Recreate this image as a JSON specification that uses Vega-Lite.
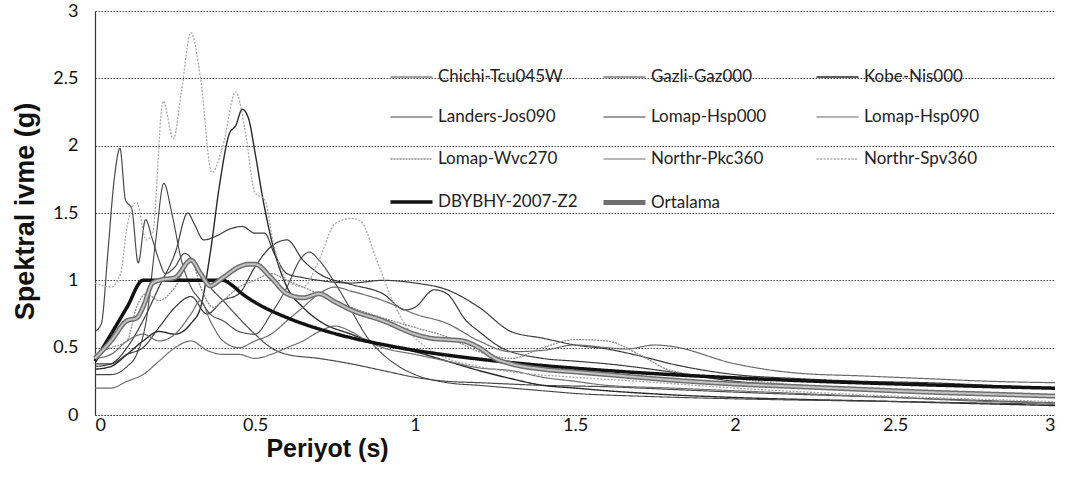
{
  "$schema": "https://vega.github.io/schema/vega-lite/v6.json",
  "autosize": {"type": "none"},
  "padding": {"left": 95, "top": 11, "right": 13, "bottom": 69},
  "width": 960,
  "height": 404,
  "background": "white",
  "config": {"view": {"stroke": null}},
  "datasets": {
    "spectra": [
      {"series":"Chichi-Tcu045W","T":0,"Sa":0.62},{"series":"Chichi-Tcu045W","T":0.02,"Sa":0.68},{"series":"Chichi-Tcu045W","T":0.04,"Sa":1.2},{"series":"Chichi-Tcu045W","T":0.06,"Sa":1.75},{"series":"Chichi-Tcu045W","T":0.078,"Sa":1.98},{"series":"Chichi-Tcu045W","T":0.095,"Sa":1.6},{"series":"Chichi-Tcu045W","T":0.115,"Sa":1.53},{"series":"Chichi-Tcu045W","T":0.135,"Sa":1.13},{"series":"Chichi-Tcu045W","T":0.158,"Sa":1.45},{"series":"Chichi-Tcu045W","T":0.18,"Sa":1.3},{"series":"Chichi-Tcu045W","T":0.2,"Sa":1.15},{"series":"Chichi-Tcu045W","T":0.22,"Sa":1.05},{"series":"Chichi-Tcu045W","T":0.25,"Sa":1.1},{"series":"Chichi-Tcu045W","T":0.28,"Sa":1.2},{"series":"Chichi-Tcu045W","T":0.32,"Sa":1.1},{"series":"Chichi-Tcu045W","T":0.36,"Sa":0.95},{"series":"Chichi-Tcu045W","T":0.4,"Sa":0.85},{"series":"Chichi-Tcu045W","T":0.45,"Sa":0.72},{"series":"Chichi-Tcu045W","T":0.5,"Sa":0.6},{"series":"Chichi-Tcu045W","T":0.55,"Sa":0.5},{"series":"Chichi-Tcu045W","T":0.6,"Sa":0.45},{"series":"Chichi-Tcu045W","T":0.7,"Sa":0.42},{"series":"Chichi-Tcu045W","T":0.8,"Sa":0.38},{"series":"Chichi-Tcu045W","T":0.9,"Sa":0.33},{"series":"Chichi-Tcu045W","T":1.0,"Sa":0.28},{"series":"Chichi-Tcu045W","T":1.1,"Sa":0.25},{"series":"Chichi-Tcu045W","T":1.2,"Sa":0.24},{"series":"Chichi-Tcu045W","T":1.4,"Sa":0.22},{"series":"Chichi-Tcu045W","T":1.6,"Sa":0.21},{"series":"Chichi-Tcu045W","T":1.8,"Sa":0.19},{"series":"Chichi-Tcu045W","T":2.0,"Sa":0.17},{"series":"Chichi-Tcu045W","T":2.5,"Sa":0.13},{"series":"Chichi-Tcu045W","T":3.0,"Sa":0.09},

      {"series":"Gazli-Gaz000","T":0,"Sa":0.36},{"series":"Gazli-Gaz000","T":0.05,"Sa":0.38},{"series":"Gazli-Gaz000","T":0.1,"Sa":0.5},{"series":"Gazli-Gaz000","T":0.15,"Sa":0.7},{"series":"Gazli-Gaz000","T":0.2,"Sa":0.95},{"series":"Gazli-Gaz000","T":0.25,"Sa":1.2},{"series":"Gazli-Gaz000","T":0.29,"Sa":1.5},{"series":"Gazli-Gaz000","T":0.31,"Sa":1.42},{"series":"Gazli-Gaz000","T":0.34,"Sa":1.3},{"series":"Gazli-Gaz000","T":0.38,"Sa":1.33},{"series":"Gazli-Gaz000","T":0.42,"Sa":1.38},{"series":"Gazli-Gaz000","T":0.46,"Sa":1.4},{"series":"Gazli-Gaz000","T":0.5,"Sa":1.35},{"series":"Gazli-Gaz000","T":0.53,"Sa":1.35},{"series":"Gazli-Gaz000","T":0.56,"Sa":1.2},{"series":"Gazli-Gaz000","T":0.6,"Sa":1.05},{"series":"Gazli-Gaz000","T":0.65,"Sa":1.02},{"series":"Gazli-Gaz000","T":0.7,"Sa":1.0},{"series":"Gazli-Gaz000","T":0.8,"Sa":0.98},{"series":"Gazli-Gaz000","T":0.9,"Sa":1.0},{"series":"Gazli-Gaz000","T":1.0,"Sa":0.98},{"series":"Gazli-Gaz000","T":1.1,"Sa":0.93},{"series":"Gazli-Gaz000","T":1.2,"Sa":0.8},{"series":"Gazli-Gaz000","T":1.3,"Sa":0.62},{"series":"Gazli-Gaz000","T":1.4,"Sa":0.57},{"series":"Gazli-Gaz000","T":1.5,"Sa":0.52},{"series":"Gazli-Gaz000","T":1.6,"Sa":0.49},{"series":"Gazli-Gaz000","T":1.7,"Sa":0.44},{"series":"Gazli-Gaz000","T":1.8,"Sa":0.38},{"series":"Gazli-Gaz000","T":2.0,"Sa":0.3},{"series":"Gazli-Gaz000","T":2.2,"Sa":0.27},{"series":"Gazli-Gaz000","T":2.4,"Sa":0.25},{"series":"Gazli-Gaz000","T":2.6,"Sa":0.24},{"series":"Gazli-Gaz000","T":2.8,"Sa":0.22},{"series":"Gazli-Gaz000","T":3.0,"Sa":0.2},

      {"series":"Kobe-Nis000","T":0,"Sa":0.34},{"series":"Kobe-Nis000","T":0.05,"Sa":0.36},{"series":"Kobe-Nis000","T":0.1,"Sa":0.45},{"series":"Kobe-Nis000","T":0.15,"Sa":0.55},{"series":"Kobe-Nis000","T":0.2,"Sa":0.62},{"series":"Kobe-Nis000","T":0.25,"Sa":0.6},{"series":"Kobe-Nis000","T":0.3,"Sa":0.68},{"series":"Kobe-Nis000","T":0.33,"Sa":0.8},{"series":"Kobe-Nis000","T":0.36,"Sa":1.2},{"series":"Kobe-Nis000","T":0.39,"Sa":1.72},{"series":"Kobe-Nis000","T":0.42,"Sa":2.09},{"series":"Kobe-Nis000","T":0.44,"Sa":2.15},{"series":"Kobe-Nis000","T":0.46,"Sa":2.27},{"series":"Kobe-Nis000","T":0.48,"Sa":2.2},{"series":"Kobe-Nis000","T":0.5,"Sa":1.95},{"series":"Kobe-Nis000","T":0.525,"Sa":1.6},{"series":"Kobe-Nis000","T":0.56,"Sa":1.22},{"series":"Kobe-Nis000","T":0.6,"Sa":0.95},{"series":"Kobe-Nis000","T":0.65,"Sa":0.8},{"series":"Kobe-Nis000","T":0.7,"Sa":0.7},{"series":"Kobe-Nis000","T":0.8,"Sa":0.6},{"series":"Kobe-Nis000","T":0.9,"Sa":0.52},{"series":"Kobe-Nis000","T":1.0,"Sa":0.47},{"series":"Kobe-Nis000","T":1.1,"Sa":0.4},{"series":"Kobe-Nis000","T":1.2,"Sa":0.33},{"series":"Kobe-Nis000","T":1.3,"Sa":0.27},{"series":"Kobe-Nis000","T":1.4,"Sa":0.22},{"series":"Kobe-Nis000","T":1.5,"Sa":0.2},{"series":"Kobe-Nis000","T":1.6,"Sa":0.18},{"series":"Kobe-Nis000","T":1.8,"Sa":0.15},{"series":"Kobe-Nis000","T":2.0,"Sa":0.13},{"series":"Kobe-Nis000","T":2.5,"Sa":0.1},{"series":"Kobe-Nis000","T":3.0,"Sa":0.07},

      {"series":"Landers-Jos090","T":0,"Sa":0.3},{"series":"Landers-Jos090","T":0.05,"Sa":0.3},{"series":"Landers-Jos090","T":0.1,"Sa":0.36},{"series":"Landers-Jos090","T":0.13,"Sa":0.45},{"series":"Landers-Jos090","T":0.16,"Sa":0.7},{"series":"Landers-Jos090","T":0.19,"Sa":1.3},{"series":"Landers-Jos090","T":0.215,"Sa":1.72},{"series":"Landers-Jos090","T":0.24,"Sa":1.5},{"series":"Landers-Jos090","T":0.27,"Sa":1.15},{"series":"Landers-Jos090","T":0.3,"Sa":0.95},{"series":"Landers-Jos090","T":0.33,"Sa":0.85},{"series":"Landers-Jos090","T":0.36,"Sa":0.75},{"series":"Landers-Jos090","T":0.4,"Sa":0.7},{"series":"Landers-Jos090","T":0.45,"Sa":0.62},{"series":"Landers-Jos090","T":0.5,"Sa":0.6},{"series":"Landers-Jos090","T":0.55,"Sa":0.75},{"series":"Landers-Jos090","T":0.6,"Sa":0.95},{"series":"Landers-Jos090","T":0.64,"Sa":1.15},{"series":"Landers-Jos090","T":0.67,"Sa":1.21},{"series":"Landers-Jos090","T":0.7,"Sa":1.15},{"series":"Landers-Jos090","T":0.75,"Sa":0.98},{"series":"Landers-Jos090","T":0.8,"Sa":0.78},{"series":"Landers-Jos090","T":0.85,"Sa":0.58},{"series":"Landers-Jos090","T":0.9,"Sa":0.45},{"series":"Landers-Jos090","T":0.95,"Sa":0.36},{"series":"Landers-Jos090","T":1.0,"Sa":0.3},{"series":"Landers-Jos090","T":1.1,"Sa":0.24},{"series":"Landers-Jos090","T":1.2,"Sa":0.22},{"series":"Landers-Jos090","T":1.3,"Sa":0.2},{"series":"Landers-Jos090","T":1.4,"Sa":0.18},{"series":"Landers-Jos090","T":1.5,"Sa":0.16},{"series":"Landers-Jos090","T":1.7,"Sa":0.14},{"series":"Landers-Jos090","T":2.0,"Sa":0.12},{"series":"Landers-Jos090","T":2.5,"Sa":0.1},{"series":"Landers-Jos090","T":3.0,"Sa":0.08},

      {"series":"Lomap-Hsp000","T":0,"Sa":0.38},{"series":"Lomap-Hsp000","T":0.05,"Sa":0.38},{"series":"Lomap-Hsp000","T":0.1,"Sa":0.45},{"series":"Lomap-Hsp000","T":0.15,"Sa":0.5},{"series":"Lomap-Hsp000","T":0.2,"Sa":0.65},{"series":"Lomap-Hsp000","T":0.25,"Sa":0.8},{"series":"Lomap-Hsp000","T":0.3,"Sa":0.88},{"series":"Lomap-Hsp000","T":0.35,"Sa":0.75},{"series":"Lomap-Hsp000","T":0.4,"Sa":0.85},{"series":"Lomap-Hsp000","T":0.45,"Sa":0.9},{"series":"Lomap-Hsp000","T":0.5,"Sa":1.1},{"series":"Lomap-Hsp000","T":0.55,"Sa":1.25},{"series":"Lomap-Hsp000","T":0.6,"Sa":1.3},{"series":"Lomap-Hsp000","T":0.65,"Sa":1.15},{"series":"Lomap-Hsp000","T":0.7,"Sa":1.05},{"series":"Lomap-Hsp000","T":0.8,"Sa":0.97},{"series":"Lomap-Hsp000","T":0.9,"Sa":0.9},{"series":"Lomap-Hsp000","T":0.97,"Sa":0.78},{"series":"Lomap-Hsp000","T":1.0,"Sa":0.8},{"series":"Lomap-Hsp000","T":1.06,"Sa":0.93},{"series":"Lomap-Hsp000","T":1.1,"Sa":0.9},{"series":"Lomap-Hsp000","T":1.16,"Sa":0.7},{"series":"Lomap-Hsp000","T":1.2,"Sa":0.62},{"series":"Lomap-Hsp000","T":1.27,"Sa":0.5},{"series":"Lomap-Hsp000","T":1.4,"Sa":0.42},{"series":"Lomap-Hsp000","T":1.5,"Sa":0.4},{"series":"Lomap-Hsp000","T":1.6,"Sa":0.38},{"series":"Lomap-Hsp000","T":1.8,"Sa":0.32},{"series":"Lomap-Hsp000","T":2.0,"Sa":0.25},{"series":"Lomap-Hsp000","T":2.2,"Sa":0.22},{"series":"Lomap-Hsp000","T":2.5,"Sa":0.18},{"series":"Lomap-Hsp000","T":2.8,"Sa":0.15},{"series":"Lomap-Hsp000","T":3.0,"Sa":0.13},

      {"series":"Lomap-Hsp090","T":0,"Sa":0.42},{"series":"Lomap-Hsp090","T":0.05,"Sa":0.45},{"series":"Lomap-Hsp090","T":0.1,"Sa":0.55},{"series":"Lomap-Hsp090","T":0.15,"Sa":0.6},{"series":"Lomap-Hsp090","T":0.2,"Sa":0.55},{"series":"Lomap-Hsp090","T":0.25,"Sa":0.6},{"series":"Lomap-Hsp090","T":0.3,"Sa":0.75},{"series":"Lomap-Hsp090","T":0.33,"Sa":0.85},{"series":"Lomap-Hsp090","T":0.36,"Sa":0.7},{"series":"Lomap-Hsp090","T":0.4,"Sa":0.55},{"series":"Lomap-Hsp090","T":0.45,"Sa":0.5},{"series":"Lomap-Hsp090","T":0.5,"Sa":0.55},{"series":"Lomap-Hsp090","T":0.55,"Sa":0.6},{"series":"Lomap-Hsp090","T":0.6,"Sa":0.7},{"series":"Lomap-Hsp090","T":0.65,"Sa":0.8},{"series":"Lomap-Hsp090","T":0.7,"Sa":0.9},{"series":"Lomap-Hsp090","T":0.75,"Sa":0.95},{"series":"Lomap-Hsp090","T":0.8,"Sa":0.92},{"series":"Lomap-Hsp090","T":0.9,"Sa":0.85},{"series":"Lomap-Hsp090","T":1.0,"Sa":0.75},{"series":"Lomap-Hsp090","T":1.1,"Sa":0.68},{"series":"Lomap-Hsp090","T":1.2,"Sa":0.55},{"series":"Lomap-Hsp090","T":1.3,"Sa":0.47},{"series":"Lomap-Hsp090","T":1.4,"Sa":0.48},{"series":"Lomap-Hsp090","T":1.5,"Sa":0.52},{"series":"Lomap-Hsp090","T":1.6,"Sa":0.5},{"series":"Lomap-Hsp090","T":1.66,"Sa":0.49},{"series":"Lomap-Hsp090","T":1.75,"Sa":0.52},{"series":"Lomap-Hsp090","T":1.8,"Sa":0.51},{"series":"Lomap-Hsp090","T":2.0,"Sa":0.38},{"series":"Lomap-Hsp090","T":2.2,"Sa":0.31},{"series":"Lomap-Hsp090","T":2.4,"Sa":0.29},{"series":"Lomap-Hsp090","T":2.6,"Sa":0.27},{"series":"Lomap-Hsp090","T":2.8,"Sa":0.25},{"series":"Lomap-Hsp090","T":3.0,"Sa":0.24},

      {"series":"Lomap-Wvc270","T":0,"Sa":0.45},{"series":"Lomap-Wvc270","T":0.05,"Sa":0.5},{"series":"Lomap-Wvc270","T":0.1,"Sa":0.55},{"series":"Lomap-Wvc270","T":0.13,"Sa":0.8},{"series":"Lomap-Wvc270","T":0.16,"Sa":0.9},{"series":"Lomap-Wvc270","T":0.2,"Sa":0.85},{"series":"Lomap-Wvc270","T":0.25,"Sa":0.95},{"series":"Lomap-Wvc270","T":0.3,"Sa":1.15},{"series":"Lomap-Wvc270","T":0.33,"Sa":0.95},{"series":"Lomap-Wvc270","T":0.37,"Sa":0.8},{"series":"Lomap-Wvc270","T":0.4,"Sa":0.85},{"series":"Lomap-Wvc270","T":0.45,"Sa":0.95},{"series":"Lomap-Wvc270","T":0.5,"Sa":1.0},{"series":"Lomap-Wvc270","T":0.55,"Sa":1.05},{"series":"Lomap-Wvc270","T":0.6,"Sa":1.0},{"series":"Lomap-Wvc270","T":0.7,"Sa":0.9},{"series":"Lomap-Wvc270","T":0.8,"Sa":0.8},{"series":"Lomap-Wvc270","T":0.9,"Sa":0.72},{"series":"Lomap-Wvc270","T":1.0,"Sa":0.65},{"series":"Lomap-Wvc270","T":1.1,"Sa":0.58},{"series":"Lomap-Wvc270","T":1.2,"Sa":0.47},{"series":"Lomap-Wvc270","T":1.3,"Sa":0.42},{"series":"Lomap-Wvc270","T":1.4,"Sa":0.5},{"series":"Lomap-Wvc270","T":1.5,"Sa":0.56},{"series":"Lomap-Wvc270","T":1.6,"Sa":0.55},{"series":"Lomap-Wvc270","T":1.7,"Sa":0.45},{"series":"Lomap-Wvc270","T":1.8,"Sa":0.33},{"series":"Lomap-Wvc270","T":2.0,"Sa":0.27},{"series":"Lomap-Wvc270","T":2.2,"Sa":0.22},{"series":"Lomap-Wvc270","T":2.5,"Sa":0.18},{"series":"Lomap-Wvc270","T":2.8,"Sa":0.16},{"series":"Lomap-Wvc270","T":3.0,"Sa":0.14},

      {"series":"Northr-Pkc360","T":0,"Sa":0.2},{"series":"Northr-Pkc360","T":0.05,"Sa":0.2},{"series":"Northr-Pkc360","T":0.1,"Sa":0.25},{"series":"Northr-Pkc360","T":0.15,"Sa":0.3},{"series":"Northr-Pkc360","T":0.2,"Sa":0.4},{"series":"Northr-Pkc360","T":0.25,"Sa":0.5},{"series":"Northr-Pkc360","T":0.3,"Sa":0.55},{"series":"Northr-Pkc360","T":0.35,"Sa":0.48},{"series":"Northr-Pkc360","T":0.4,"Sa":0.45},{"series":"Northr-Pkc360","T":0.45,"Sa":0.45},{"series":"Northr-Pkc360","T":0.5,"Sa":0.42},{"series":"Northr-Pkc360","T":0.55,"Sa":0.45},{"series":"Northr-Pkc360","T":0.6,"Sa":0.5},{"series":"Northr-Pkc360","T":0.65,"Sa":0.55},{"series":"Northr-Pkc360","T":0.7,"Sa":0.62},{"series":"Northr-Pkc360","T":0.75,"Sa":0.66},{"series":"Northr-Pkc360","T":0.8,"Sa":0.62},{"series":"Northr-Pkc360","T":0.85,"Sa":0.55},{"series":"Northr-Pkc360","T":0.9,"Sa":0.5},{"series":"Northr-Pkc360","T":1.0,"Sa":0.45},{"series":"Northr-Pkc360","T":1.1,"Sa":0.4},{"series":"Northr-Pkc360","T":1.2,"Sa":0.35},{"series":"Northr-Pkc360","T":1.3,"Sa":0.33},{"series":"Northr-Pkc360","T":1.4,"Sa":0.28},{"series":"Northr-Pkc360","T":1.5,"Sa":0.25},{"series":"Northr-Pkc360","T":1.6,"Sa":0.22},{"series":"Northr-Pkc360","T":1.8,"Sa":0.2},{"series":"Northr-Pkc360","T":2.0,"Sa":0.18},{"series":"Northr-Pkc360","T":2.2,"Sa":0.16},{"series":"Northr-Pkc360","T":2.5,"Sa":0.13},{"series":"Northr-Pkc360","T":2.8,"Sa":0.1},{"series":"Northr-Pkc360","T":3.0,"Sa":0.09},

      {"series":"Northr-Spv360","T":0,"Sa":0.98},{"series":"Northr-Spv360","T":0.05,"Sa":0.95},{"series":"Northr-Spv360","T":0.08,"Sa":1.05},{"series":"Northr-Spv360","T":0.1,"Sa":1.4},{"series":"Northr-Spv360","T":0.13,"Sa":1.58},{"series":"Northr-Spv360","T":0.16,"Sa":1.3},{"series":"Northr-Spv360","T":0.18,"Sa":1.35},{"series":"Northr-Spv360","T":0.213,"Sa":2.33},{"series":"Northr-Spv360","T":0.245,"Sa":2.05},{"series":"Northr-Spv360","T":0.27,"Sa":2.4},{"series":"Northr-Spv360","T":0.3,"Sa":2.84},{"series":"Northr-Spv360","T":0.33,"Sa":2.5},{"series":"Northr-Spv360","T":0.365,"Sa":1.8},{"series":"Northr-Spv360","T":0.4,"Sa":2.0},{"series":"Northr-Spv360","T":0.44,"Sa":2.4},{"series":"Northr-Spv360","T":0.47,"Sa":2.1},{"series":"Northr-Spv360","T":0.5,"Sa":1.65},{"series":"Northr-Spv360","T":0.53,"Sa":1.6},{"series":"Northr-Spv360","T":0.56,"Sa":1.25},{"series":"Northr-Spv360","T":0.6,"Sa":1.0},{"series":"Northr-Spv360","T":0.65,"Sa":0.95},{"series":"Northr-Spv360","T":0.7,"Sa":1.15},{"series":"Northr-Spv360","T":0.75,"Sa":1.42},{"series":"Northr-Spv360","T":0.8,"Sa":1.46},{"series":"Northr-Spv360","T":0.83,"Sa":1.44},{"series":"Northr-Spv360","T":0.88,"Sa":1.15},{"series":"Northr-Spv360","T":0.93,"Sa":0.85},{"series":"Northr-Spv360","T":0.98,"Sa":0.63},{"series":"Northr-Spv360","T":1.05,"Sa":0.48},{"series":"Northr-Spv360","T":1.1,"Sa":0.42},{"series":"Northr-Spv360","T":1.2,"Sa":0.36},{"series":"Northr-Spv360","T":1.3,"Sa":0.32},{"series":"Northr-Spv360","T":1.5,"Sa":0.28},{"series":"Northr-Spv360","T":1.7,"Sa":0.25},{"series":"Northr-Spv360","T":2.0,"Sa":0.2},{"series":"Northr-Spv360","T":2.5,"Sa":0.14},{"series":"Northr-Spv360","T":3.0,"Sa":0.1},

      {"series":"DBYBHY-2007-Z2","T":0,"Sa":0.4},{"series":"DBYBHY-2007-Z2","T":0.05,"Sa":0.6},{"series":"DBYBHY-2007-Z2","T":0.1,"Sa":0.8},{"series":"DBYBHY-2007-Z2","T":0.15,"Sa":1.0},{"series":"DBYBHY-2007-Z2","T":0.4,"Sa":1.0},{"series":"DBYBHY-2007-Z2","T":0.43,"Sa":0.96},{"series":"DBYBHY-2007-Z2","T":0.46,"Sa":0.9},{"series":"DBYBHY-2007-Z2","T":0.5,"Sa":0.837},{"series":"DBYBHY-2007-Z2","T":0.6,"Sa":0.723},{"series":"DBYBHY-2007-Z2","T":0.7,"Sa":0.639},{"series":"DBYBHY-2007-Z2","T":0.8,"Sa":0.574},{"series":"DBYBHY-2007-Z2","T":0.9,"Sa":0.523},{"series":"DBYBHY-2007-Z2","T":1.0,"Sa":0.48},{"series":"DBYBHY-2007-Z2","T":1.2,"Sa":0.415},{"series":"DBYBHY-2007-Z2","T":1.4,"Sa":0.367},{"series":"DBYBHY-2007-Z2","T":1.6,"Sa":0.33},{"series":"DBYBHY-2007-Z2","T":1.8,"Sa":0.3},{"series":"DBYBHY-2007-Z2","T":2.0,"Sa":0.276},{"series":"DBYBHY-2007-Z2","T":2.25,"Sa":0.251},{"series":"DBYBHY-2007-Z2","T":2.5,"Sa":0.231},{"series":"DBYBHY-2007-Z2","T":2.75,"Sa":0.214},{"series":"DBYBHY-2007-Z2","T":3.0,"Sa":0.199},

      {"series":"Ortalama","T":0,"Sa":0.42},{"series":"Ortalama","T":0.05,"Sa":0.55},{"series":"Ortalama","T":0.1,"Sa":0.7},{"series":"Ortalama","T":0.13,"Sa":0.72},{"series":"Ortalama","T":0.15,"Sa":0.8},{"series":"Ortalama","T":0.18,"Sa":0.98},{"series":"Ortalama","T":0.2,"Sa":1.0},{"series":"Ortalama","T":0.25,"Sa":1.02},{"series":"Ortalama","T":0.3,"Sa":1.15},{"series":"Ortalama","T":0.33,"Sa":1.05},{"series":"Ortalama","T":0.36,"Sa":0.96},{"series":"Ortalama","T":0.4,"Sa":1.02},{"series":"Ortalama","T":0.45,"Sa":1.1},{"series":"Ortalama","T":0.48,"Sa":1.12},{"series":"Ortalama","T":0.5,"Sa":1.12},{"series":"Ortalama","T":0.55,"Sa":1.02},{"series":"Ortalama","T":0.6,"Sa":0.9},{"series":"Ortalama","T":0.65,"Sa":0.87},{"series":"Ortalama","T":0.7,"Sa":0.9},{"series":"Ortalama","T":0.75,"Sa":0.84},{"series":"Ortalama","T":0.8,"Sa":0.78},{"series":"Ortalama","T":0.9,"Sa":0.7},{"series":"Ortalama","T":1.0,"Sa":0.6},{"series":"Ortalama","T":1.05,"Sa":0.57},{"series":"Ortalama","T":1.1,"Sa":0.56},{"series":"Ortalama","T":1.15,"Sa":0.55},{"series":"Ortalama","T":1.2,"Sa":0.5},{"series":"Ortalama","T":1.25,"Sa":0.42},{"series":"Ortalama","T":1.3,"Sa":0.38},{"series":"Ortalama","T":1.4,"Sa":0.34},{"series":"Ortalama","T":1.5,"Sa":0.32},{"series":"Ortalama","T":1.6,"Sa":0.3},{"series":"Ortalama","T":1.8,"Sa":0.26},{"series":"Ortalama","T":2.0,"Sa":0.23},{"series":"Ortalama","T":2.2,"Sa":0.21},{"series":"Ortalama","T":2.4,"Sa":0.19},{"series":"Ortalama","T":2.6,"Sa":0.17},{"series":"Ortalama","T":2.8,"Sa":0.155},{"series":"Ortalama","T":3.0,"Sa":0.14}
    ]
  },
  "data": {"name": "spectra"},
  "encoding": {
    "x": {
      "field": "T", "type": "quantitative",
      "scale": {"domain": [0, 3], "nice": false, "zero": true},
      "axis": {
        "values": [0, 0.5, 1, 1.5, 2, 2.5, 3], "format": "~g",
        "grid": false, "ticks": false,
        "domain": true, "domainColor": "#444", "domainDash": [1.5, 1.5], "domainWidth": 1,
        "labelFont": "Lato", "labelFontSize": 18, "labelColor": "#111", "labelPadding": 1,
        "title": "Periyot (s)", "titleFont": "Liberation Sans", "titleFontSize": 25, "titleFontWeight": "bold",
        "titleColor": "#111", "titleX": 232, "titleY": 33, "titleAlign": "center", "titleBaseline": "middle"
      }
    },
    "y": {
      "field": "Sa", "type": "quantitative",
      "scale": {"domain": [0, 3], "nice": false},
      "axis": {
        "values": [0, 0.5, 1, 1.5, 2, 2.5, 3], "format": "~g",
        "grid": true, "gridColor": "#444", "gridDash": [1.5, 1.5], "gridWidth": 1,
        "ticks": false, "domain": true, "domainColor": "#333", "domainWidth": 1.2,
        "labelFont": "Lato", "labelFontSize": 18, "labelColor": "#111", "labelPadding": 17,
        "title": "Spektral ivme (g)", "titleFont": "Liberation Sans", "titleFontSize": 27, "titleFontWeight": "bold",
        "titleColor": "#111", "titleX": -70, "titleY": 200, "titleAlign": "center", "titleBaseline": "middle"
      }
    },
    "color": {
      "field": "series", "type": "nominal",
      "scale": {
        "domain": ["Chichi-Tcu045W","Gazli-Gaz000","Kobe-Nis000","Landers-Jos090","Lomap-Hsp000","Lomap-Hsp090","Lomap-Wvc270","Northr-Pkc360","Northr-Spv360","DBYBHY-2007-Z2","Ortalama"],
        "range": ["#4a4a4a","#3c3c3c","#2a2a2a","#444444","#383838","#6a6a6a","#8a8a8a","#6e6e6e","#a8a8a8","#111111","#6f6f6f"]
      },
      "legend": {
        "title": null, "orient": "none", "legendX": 293, "legendY": 42, "direction": "horizontal",
        "columns": 3, "gridAlign": "all", "columnPadding": 15, "rowPadding": 8,
        "symbolType": "stroke", "symbolSize": 1764, "labelFont": "Lato", "labelFontSize": 17,
        "labelColor": "#222", "labelOffset": 3, "labelLimit": 300
      }
    },
    "strokeWidth": {
      "field": "series", "type": "nominal",
      "scale": {
        "type": "ordinal",
        "domain": ["Chichi-Tcu045W","Gazli-Gaz000","Kobe-Nis000","Landers-Jos090","Lomap-Hsp000","Lomap-Hsp090","Lomap-Wvc270","Northr-Pkc360","Northr-Spv360","DBYBHY-2007-Z2","Ortalama"],
        "range": [1.2, 1.2, 1.4, 1.1, 1.2, 1.2, 1.3, 1.2, 1.3, 3.5, 5]
      },
      "legend": {
        "title": null, "orient": "none", "legendX": 293, "legendY": 42, "direction": "horizontal",
        "columns": 3, "gridAlign": "all", "columnPadding": 15, "rowPadding": 8,
        "symbolType": "stroke", "symbolSize": 1764, "labelFont": "Lato", "labelFontSize": 17,
        "labelColor": "#222", "labelOffset": 3, "labelLimit": 300
      }
    },
    "strokeDash": {
      "field": "series", "type": "nominal",
      "scale": {
        "domain": ["Chichi-Tcu045W","Gazli-Gaz000","Kobe-Nis000","Landers-Jos090","Lomap-Hsp000","Lomap-Hsp090","Lomap-Wvc270","Northr-Pkc360","Northr-Spv360","DBYBHY-2007-Z2","Ortalama"],
        "range": [[1,0],[1,0],[1,0],[1,0],[1,0],[1,0],[2,1],[1,0],[2,1.5],[1,0],[1,0]]
      },
      "legend": {
        "title": null, "orient": "none", "legendX": 293, "legendY": 42, "direction": "horizontal",
        "columns": 3, "gridAlign": "all", "columnPadding": 15, "rowPadding": 8,
        "symbolType": "stroke", "symbolSize": 1764, "labelFont": "Lato", "labelFontSize": 17,
        "labelColor": "#222", "labelOffset": 3, "labelLimit": 300
      }
    }
  },
  "layer": [
    {
      "transform": [{"filter": "datum.series !== 'DBYBHY-2007-Z2' && datum.series !== 'Ortalama'"}],
      "mark": {"type": "line", "interpolate": "monotone"}
    },
    {
      "transform": [{"filter": "datum.series === 'DBYBHY-2007-Z2'"}],
      "mark": {"type": "line", "interpolate": "monotone"}
    },
    {
      "transform": [{"filter": "datum.series === 'Ortalama'"}],
      "mark": {"type": "line", "interpolate": "monotone"}
    },
    {
      "transform": [{"filter": "datum.series === 'Ortalama'"}],
      "mark": {"type": "line", "interpolate": "monotone"},
      "encoding": {"color": {"value": "#c4c4c4"}, "strokeWidth": {"value": 2}, "strokeDash": {"value": [1, 0]}}
    }
  ]
}
